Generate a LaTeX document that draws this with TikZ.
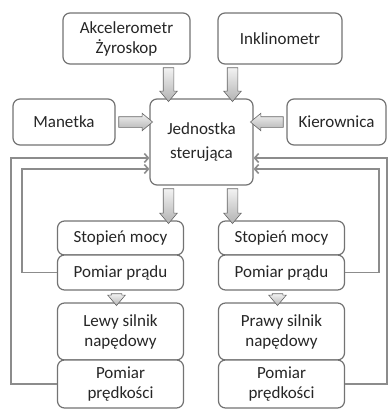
\documentclass[tikz,border=0pt]{standalone}
\usepackage{fontspec}
\setmainfont{Carlito}
\usetikzlibrary{arrows.meta,calc,positioning,shapes.arrows}

\tikzset{
	box/.style={draw=black!55, line width=1.2pt, rounded corners=7pt, fill=white, align=center, text=black!85, font=\fontsize{17}{20}\selectfont, inner sep=0pt},
	blockarr/.style={single arrow, draw=black!60, line width=0.6pt, top color=gray!10, bottom color=gray!60, inner xsep=0pt, inner ysep=5pt, single arrow head extend=3.5pt, single arrow tip angle=80},
	fb/.style={draw=black!45, line width=1.6pt, -{Straight Barb[length=4pt,width=9pt]}},
}
% fat arrow between two points
\newcommand\blockarrow[2]{%
	\path let \p1=#1, \p2=#2, \n1={veclen(\x2-\x1,\y2-\y1)}, \n2={atan2(\y2-\y1,\x2-\x1)} in
		node[blockarr, minimum height=\n1, rotate=\n2] at ($(\p1)!0.5!(\p2)$) {};}

\begin{document}
\begin{tikzpicture}[x=1pt, y=-1pt]
	\useasboundingbox (0,0) rectangle (389,410);
	\node[box, minimum width=127pt, minimum height=51pt] (akc) at (126.5,38.5) {Akcelerometr\\Żyroskop};
	\node[box, minimum width=124pt, minimum height=51pt] (ink) at (280,38.5) {Inklinometr};
	\node[box, minimum width=102pt, minimum height=46pt] (man) at (64,122) {Manetka};
	\node[box, minimum width=103pt, minimum height=86pt] (jed) at (201.5,142) {Jednostka\\[4pt]sterująca};
	\node[box, minimum width=99pt, minimum height=46pt] (kie) at (336.5,122) {Kierownica};
	\foreach \s/\x/\t in {l/120.5/Lewy, r/281.5/Prawy} {
		\node[box, minimum width=126pt, minimum height=34pt] (s\s) at (\x,238) {Stopień mocy};
		\node[box, minimum width=126pt, minimum height=35pt] (p\s) at (\x,272.5) {Pomiar prądu};
		\node[box, minimum width=126pt, minimum height=57pt] (m\s) at (\x,331.5) {\t{} silnik\\napędowy};
		\node[box, minimum width=126pt, minimum height=48pt] (v\s) at (\x,384) {Pomiar\\prędkości};
		\blockarrow{([xshift=-4pt]p\s.south)}{([xshift=-4pt]m\s.north)}
	}
	\blockarrow{([xshift=-33pt]jed.north |- akc.south)}{([xshift=-33pt]jed.north)}
	\blockarrow{([xshift=31pt]jed.north |- ink.south)}{([xshift=31pt]jed.north)}
	\blockarrow{(man.east)}{(jed.west |- man.east)}
	\blockarrow{(kie.west)}{(jed.east |- kie.west)}
	\blockarrow{([xshift=-33pt]jed.south)}{([xshift=-33pt]jed.south |- sl.north)}
	\blockarrow{([xshift=31pt]jed.south)}{([xshift=31pt]jed.south |- sr.north)}
	% feedback lines
	\draw[fb] (vl.west) -- ++(-46,0) |- ([yshift=-16pt]jed.west);
	\draw[fb] (pl.west) -- ++(-35,0) |- ([yshift=-27pt]jed.west);
	\draw[fb] (vr.east) -- ++(42,0) |- ([yshift=-16pt]jed.east);
	\draw[fb] (pr.east) -- ++(34,0) |- ([yshift=-27pt]jed.east);
\end{tikzpicture}
\end{document}
